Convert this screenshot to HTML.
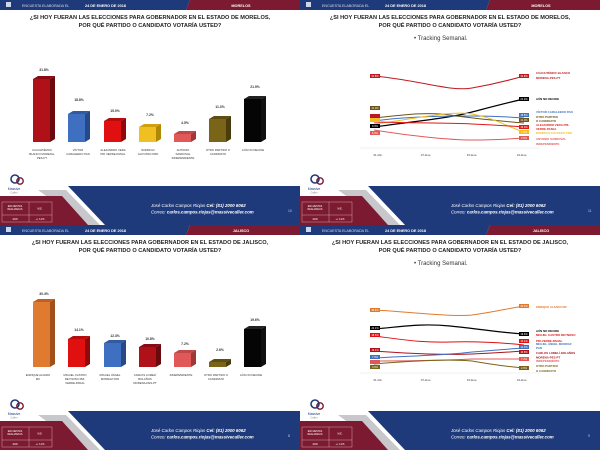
<!DOCTYPE html>
<html><head><meta charset="utf-8"><style>
html,body{margin:0;padding:0;background:#fff;width:600px;height:450px;overflow:hidden}
svg{display:block}
text{font-family:"Liberation Sans",sans-serif}
.t{font-size:5.6px;font-weight:bold;fill:#222;text-anchor:middle}
.hd{font-size:3.6px;fill:#dde}
.hb{font-size:3.8px;fill:#fff;font-weight:bold}
.ct{font-size:4.4px;fill:#fff;font-style:italic}
.v{font-size:3.4px;font-weight:bold;fill:#333;text-anchor:middle}
.c{font-size:2.8px;fill:#333;text-anchor:middle}
.ax{font-size:3px;fill:#444;text-anchor:middle}
.lb{font-size:2.9px;font-weight:bold}
.bx{font-size:2.4px;fill:#fff;text-anchor:middle}
.sub{font-size:6px;fill:#333}
</style></head><body>
<svg width="600" height="450" viewBox="0 0 600 450" xmlns="http://www.w3.org/2000/svg">
<defs>
<g id="frame">
<rect width="300" height="225" fill="#fff"/>
<polygon points="0,0 190,0 186,10 0,10" fill="#1f3a7a"/>
<polygon points="190,0 300,0 300,10 186,10" fill="#7b1a30"/>
<rect x="6" y="2" width="5" height="5" fill="#cfd6e8"/>
<polygon points="68,186 300,186 300,225 105,225" fill="#1f3a7a"/>
<polygon points="38,190 66,190 100,225 86,225" fill="#c8c8cc"/>
<polygon points="0,196 62,196 88,225 0,225" fill="#7b1a30"/>
<rect x="2" y="202" width="50" height="20" fill="none" stroke="#e6c0c8" stroke-width="0.4"/>
<line x1="2" y1="215" x2="52" y2="215" stroke="#e6c0c8" stroke-width="0.4"/>
<line x1="29" y1="202" x2="29" y2="222" stroke="#e6c0c8" stroke-width="0.4"/>
<text class="bx" x="15" y="207">ENCUESTAS</text><text class="bx" x="15" y="210">REALIZADAS</text>
<text class="bx" x="40" y="209.5">M.E.</text>
<text class="bx" x="15" y="220">1000</text><text class="bx" x="40" y="220">+/- 3.2%</text>
<circle cx="15" cy="179" r="4" fill="none" stroke="#1f3a7a" stroke-width="1.6"/>
<circle cx="20" cy="181" r="3.2" fill="none" stroke="#7b1a30" stroke-width="1.4"/>
<text x="14" y="190" style="font-size:3.4px;fill:#1f3a7a;text-anchor:middle">Massive</text>
<text x="14" y="193.5" style="font-size:2.8px;fill:#888;text-anchor:middle">Caller</text>
<text class="ct" x="151" y="207">José Carlos Campos Riojas <tspan font-weight="bold">Cel: (81) 2000 6062</tspan></text>
<text class="ct" x="151" y="213.5">Correo: <tspan font-weight="bold">carlos.campos.riojas@massivecaller.com</tspan></text>
</g>
</defs>

<!-- Slide 1 Morelos bars -->
<g>
<use href="#frame"/>
<text class="hd" x="22" y="7">ENCUESTA ELABORADA EL</text><text class="hb" x="85" y="7">24 DE ENERO DE 2018</text>
<text class="hb" x="241" y="7" text-anchor="middle">MORELOS</text>
<text class="t" x="150" y="19">¿SI HOY FUERAN LAS ELECCIONES PARA GOBERNADOR EN EL ESTADO DE MORELOS,</text>
<text class="t" x="150" y="27">POR QUÉ PARTIDO O CANDIDATO VOTARÍA USTED?</text>
<g>
<rect x="33" y="79" width="17" height="63" fill="#b01018"/><polygon points="33,79 38,76 55,76 50,79" fill="#8a0c12"/><polygon points="50,79 55,76 55,139 50,142" fill="#6a0a0e"/>
<rect x="68" y="114" width="17" height="28" fill="#3f6fc0"/><polygon points="68,114 73,111 90,111 85,114" fill="#325aa0"/><polygon points="85,114 90,111 90,139 85,142" fill="#264a88"/>
<rect x="104" y="121" width="17" height="21" fill="#e01010"/><polygon points="104,121 109,118 126,118 121,121" fill="#b80c0c"/><polygon points="121,121 126,118 126,139 121,142" fill="#900808"/>
<rect x="139" y="127" width="17" height="15" fill="#f0c020"/><polygon points="139,127 144,124 161,124 156,127" fill="#d0a010"/><polygon points="156,127 161,124 161,139 156,142" fill="#b08808"/>
<rect x="174" y="134" width="17" height="8" fill="#e05858"/><polygon points="174,134 179,131 196,131 191,134" fill="#c04848"/><polygon points="191,134 196,131 196,139 191,142" fill="#a03838"/>
<rect x="209" y="119" width="17" height="23" fill="#7a6418"/><polygon points="209,119 214,116 231,116 226,119" fill="#5e4c10"/><polygon points="226,119 231,116 231,139 226,142" fill="#4a3c0c"/>
<rect x="244" y="99" width="17" height="43" fill="#050505"/><polygon points="244,99 249,96 266,96 261,99" fill="#222"/><polygon points="261,99 266,96 266,139 261,142" fill="#111"/>
<text class="v" x="44" y="71">31.8%</text><text class="v" x="79" y="101">18.8%</text><text class="v" x="115" y="112">15.0%</text><text class="v" x="150" y="116">7.2%</text><text class="v" x="185" y="124">4.5%</text><text class="v" x="220" y="108">11.3%</text><text class="v" x="255" y="88">21.9%</text>
<text class="c" x="42" y="151">CUAUHTÉMOC</text><text class="c" x="42" y="155">BLANCO MORENA-</text><text class="c" x="42" y="159">PES-PT</text>
<text class="c" x="78" y="151">VÍCTOR</text><text class="c" x="78" y="155">CARALEEDO PAN</text>
<text class="c" x="113" y="151">ALEJANDRO VERA</text><text class="c" x="113" y="155">PRI VERDE-PANAL</text>
<text class="c" x="148" y="151">RODRIGO</text><text class="c" x="148" y="155">GAYOSSO PRD</text>
<text class="c" x="183" y="151">ANTONIO</text><text class="c" x="183" y="155">SANDOVAL</text><text class="c" x="183" y="159">INDEPENDIENTE</text>
<text class="c" x="218" y="151">OTRO PARTIDO O</text><text class="c" x="218" y="155">CANDIDATO</text>
<text class="c" x="253" y="151">AÚN NO DECIDE</text>
</g>
<text x="288" y="212" style="font-size:3.4px;fill:#ccd">10</text>
</g>

<!-- Slide 2 Morelos lines -->
<g transform="translate(300,0)">
<use href="#frame"/>
<text class="hd" x="22" y="7">ENCUESTA ELABORADA EL</text><text class="hb" x="85" y="7">24 DE ENERO DE 2018</text>
<text class="hb" x="241" y="7" text-anchor="middle">MORELOS</text>
<text class="t" x="150" y="19">¿SI HOY FUERAN LAS ELECCIONES PARA GOBERNADOR EN EL ESTADO DE MORELOS,</text>
<text class="t" x="150" y="27">POR QUÉ PARTIDO O CANDIDATO VOTARÍA USTED?</text>
<text class="sub" x="114" y="40">•   Tracking Semanal.</text>
<line x1="60" y1="148" x2="240" y2="148" stroke="#ddd" stroke-width="0.4"/>
<text class="ax" x="78" y="156">31-Dic.</text><text class="ax" x="126" y="156">07-Ene.</text><text class="ax" x="172" y="156">15-Ene.</text><text class="ax" x="222" y="156">24-Ene.</text>
<g fill="none" stroke-width="1">
<path d="M74,76 C120,80 150,92 172,88 C195,84 210,80 224,76" stroke="#c01820"/>
<path d="M74,127 C110,122 150,118 172,112 C195,106 210,102 224,99" stroke="#000" stroke-width="1.2"/>
<path d="M74,121 C110,116 150,116 172,116 C195,116 210,117 224,118" stroke="#4070c0"/>
<path d="M74,118 C110,114 130,112 150,115 C170,118 200,121 224,123" stroke="#6a5418"/>
<path d="M74,124 C110,120 150,110 172,114 C195,118 210,128 224,132" stroke="#f0c020"/>
<path d="M74,122 C110,123 150,123 172,124 C195,125 210,126 224,127" stroke="#e01818"/>
<path d="M74,130 C110,136 150,140 172,140 C195,140 210,139 224,138" stroke="#e05a5a"/>
</g>
<g font-size="2.6" fill="#fff" text-anchor="middle">
<rect x="70" y="74" width="10" height="4" fill="#c01820"/><text x="75" y="77">31.8%</text>
<rect x="70" y="106" width="10" height="4" fill="#6a5418"/><text x="75" y="109">11.3%</text>
<rect x="70" y="114" width="10" height="4" fill="#c01820"/><rect x="70" y="118" width="10" height="4" fill="#f0c020"/>
<rect x="70" y="124" width="10" height="4" fill="#000"/><text x="75" y="127">9.0%</text>
<rect x="70" y="131" width="10" height="4" fill="#e05a5a"/><text x="75" y="134">6.0%</text>
<rect x="219" y="74" width="10" height="4" fill="#c01820"/><text x="224" y="77">31.8%</text>
<rect x="219" y="97" width="10" height="4" fill="#000"/><text x="224" y="100">21.9%</text>
<rect x="219" y="113" width="10" height="4" fill="#4070c0"/><text x="224" y="116">18.8%</text>
<rect x="219" y="118" width="10" height="4" fill="#6a5418"/><text x="224" y="121">11.3%</text>
<rect x="219" y="125" width="10" height="4" fill="#e01818"/><text x="224" y="128">15.0%</text>
<rect x="219" y="130" width="10" height="4" fill="#f0c020"/><text x="224" y="133">7.2%</text>
<rect x="219" y="136" width="10" height="4" fill="#e05a5a"/><text x="224" y="139">4.5%</text>
</g>
<g class="lb">
<text x="236" y="74" fill="#c01820">CUAUHTÉMOC BLANCO</text><text x="236" y="79" fill="#c01820">MORENA-PES-PT</text>
<text x="236" y="100" fill="#000">AÚN NO DECIDE</text>
<text x="236" y="113" fill="#4070c0">VÍCTOR CARALEEDO PAN</text>
<text x="236" y="118" fill="#6a5418">OTRO PARTIDO</text><text x="236" y="122" fill="#6a5418">O CANDIDATO</text>
<text x="236" y="126" fill="#e01818">ALEJANDRO VERA PRI-</text><text x="236" y="130" fill="#e01818">VERDE-PANAL</text>
<text x="236" y="134" fill="#f0c020">RODRIGO GAYOSSO PRD</text>
<text x="236" y="140" fill="#e05a5a">ANTONIO SANDOVAL</text><text x="236" y="145" fill="#e05a5a">INDEPENDIENTE</text>
</g>
<text x="288" y="212" style="font-size:3.4px;fill:#ccd">11</text>
</g>

<!-- Slide 3 Jalisco bars -->
<g transform="translate(0,225)">
<use href="#frame"/>
<text class="hd" x="22" y="7">ENCUESTA ELABORADA EL</text><text class="hb" x="85" y="7">24 DE ENERO DE 2018</text>
<text class="hb" x="241" y="7" text-anchor="middle">JALISCO</text>
<text class="t" x="150" y="19">¿SI HOY FUERAN LAS ELECCIONES PARA GOBERNADOR EN EL ESTADO DE JALISCO,</text>
<text class="t" x="150" y="27">POR QUÉ PARTIDO O CANDIDATO VOTARÍA USTED?</text>
<rect x="33" y="77" width="17" height="65" fill="#e07a30"/><polygon points="33,77 38,74 55,74 50,77" fill="#c06020"/><polygon points="50,77 55,74 55,139 50,142" fill="#a05018"/>
<rect x="68" y="114" width="17" height="28" fill="#e01010"/><polygon points="68,114 73,111 90,111 85,114" fill="#b80c0c"/><polygon points="85,114 90,111 90,139 85,142" fill="#900808"/>
<rect x="104" y="118" width="17" height="24" fill="#3f6fc0"/><polygon points="104,118 109,115 126,115 121,118" fill="#325aa0"/><polygon points="121,118 126,115 126,139 121,142" fill="#264a88"/>
<rect x="139" y="122" width="17" height="20" fill="#b01018"/><polygon points="139,122 144,119 161,119 156,122" fill="#8a0c12"/><polygon points="156,122 161,119 161,139 156,142" fill="#6a0a0e"/>
<rect x="174" y="128" width="17" height="14" fill="#e05858"/><polygon points="174,128 179,125 196,125 191,128" fill="#c04848"/><polygon points="191,128 196,125 196,139 191,142" fill="#a03838"/>
<rect x="209" y="137" width="17" height="5" fill="#7a6418"/><polygon points="209,137 214,134 231,134 226,137" fill="#5e4c10"/><polygon points="226,137 231,134 231,139 226,142" fill="#4a3c0c"/>
<rect x="244" y="104" width="17" height="38" fill="#050505"/><polygon points="244,104 249,101 266,101 261,104" fill="#222"/><polygon points="261,104 266,101 266,139 261,142" fill="#111"/>
<text class="v" x="44" y="70">30.4%</text><text class="v" x="79" y="106">14.1%</text><text class="v" x="115" y="112">12.3%</text><text class="v" x="150" y="115">10.8%</text><text class="v" x="185" y="120">7.2%</text><text class="v" x="220" y="126">2.6%</text><text class="v" x="255" y="96">19.6%</text>
<text class="c" x="38" y="151">ENRIQUE ALFARO</text><text class="c" x="38" y="155">MC</text>
<text class="c" x="75" y="151">MIGUEL CASTRO</text><text class="c" x="75" y="155">REYNOSO PRI-</text><text class="c" x="75" y="159">VERDE-PANAL</text>
<text class="c" x="110" y="151">MIGUEL ÁNGEL</text><text class="c" x="110" y="155">MONRAZ PAN</text>
<text class="c" x="145" y="151">CARLOS LOMELÍ</text><text class="c" x="145" y="155">BOLAÑOS</text><text class="c" x="145" y="159">MORENA-PES-PT</text>
<text class="c" x="181" y="151">INDEPENDIENTE</text>
<text class="c" x="216" y="151">OTRO PARTIDO O</text><text class="c" x="216" y="155">CANDIDATO</text>
<text class="c" x="251" y="151">AÚN NO DECIDE</text>
<text x="288" y="212" style="font-size:3.4px;fill:#ccd">8</text>
</g>

<!-- Slide 4 Jalisco lines -->
<g transform="translate(300,225)">
<use href="#frame"/>
<text class="hd" x="22" y="7">ENCUESTA ELABORADA EL</text><text class="hb" x="85" y="7">24 DE ENERO DE 2018</text>
<text class="hb" x="241" y="7" text-anchor="middle">JALISCO</text>
<text class="t" x="150" y="19">¿SI HOY FUERAN LAS ELECCIONES PARA GOBERNADOR EN EL ESTADO DE JALISCO,</text>
<text class="t" x="150" y="27">POR QUÉ PARTIDO O CANDIDATO VOTARÍA USTED?</text>
<text class="sub" x="114" y="40">•   Tracking Semanal.</text>
<line x1="60" y1="148" x2="240" y2="148" stroke="#ddd" stroke-width="0.4"/>
<text class="ax" x="78" y="156">31-Dic.</text><text class="ax" x="126" y="156">07-Ene.</text><text class="ax" x="172" y="156">15-Ene.</text><text class="ax" x="222" y="156">24-Ene.</text>
<g fill="none" stroke-width="1">
<path d="M74,85 C110,87 150,92 172,90 C195,87 210,83 224,81" stroke="#e07a30"/>
<path d="M74,104 C100,102 120,98 150,101 C180,104 205,108 224,109" stroke="#000" stroke-width="1.2"/>
<path d="M74,111 C100,114 120,118 150,117 C180,116 205,118 224,120" stroke="#e01010"/>
<path d="M74,126 C110,129 150,130 172,129 C195,128 210,127 224,126" stroke="#b01018"/>
<path d="M74,133 C110,131 150,130 172,127 C195,125 210,124 224,123" stroke="#4070c0"/>
<path d="M74,136 C110,136 150,135 172,134 C195,134 210,134 224,134" stroke="#e05858"/>
<path d="M74,139 C110,136 150,134 172,136 C195,140 210,142 224,143" stroke="#7a6418"/>
</g>
<g font-size="2.6" fill="#fff" text-anchor="middle">
<rect x="70" y="83" width="10" height="4" fill="#e07a30"/><text x="75" y="86">30.4%</text>
<rect x="70" y="101" width="10" height="4" fill="#000"/><text x="75" y="104">22.1%</text>
<rect x="70" y="108" width="10" height="4" fill="#e01010"/><text x="75" y="111">18.6%</text>
<rect x="70" y="123" width="10" height="4" fill="#b01018"/><text x="75" y="126">10.1%</text>
<rect x="70" y="130" width="10" height="4" fill="#4070c0"/><text x="75" y="133">7.0%</text>
<rect x="70" y="135" width="10" height="4" fill="#e05858"/>
<rect x="70" y="140" width="10" height="4" fill="#7a6418"/><text x="75" y="143">4.0%</text>
<rect x="219" y="79" width="10" height="4" fill="#e07a30"/><text x="224" y="82">30.4%</text>
<rect x="219" y="107" width="10" height="4" fill="#000"/><text x="224" y="110">19.6%</text>
<rect x="219" y="114" width="10" height="4" fill="#e01010"/><text x="224" y="117">14.1%</text>
<rect x="219" y="120" width="10" height="4" fill="#4070c0"/><text x="224" y="123">12.3%</text>
<rect x="219" y="125" width="10" height="4" fill="#b01018"/><text x="224" y="128">10.8%</text>
<rect x="219" y="132" width="10" height="4" fill="#e05858"/><text x="224" y="135">7.2%</text>
<rect x="219" y="141" width="10" height="4" fill="#7a6418"/><text x="224" y="144">2.6%</text>
</g>
<g class="lb">
<text x="236" y="83" fill="#e07a30">ENRIQUE ALFARO MC</text>
<text x="236" y="107" fill="#000">AÚN NO DECIDE</text>
<text x="236" y="111" fill="#e01010">MIGUEL CASTRO REYNOSO</text>
<text x="236" y="117" fill="#e01010">PRI-VERDE-PANAL</text>
<text x="236" y="120" fill="#4070c0">MIGUEL ÁNGEL MONRAZ</text><text x="236" y="124" fill="#4070c0">PAN</text>
<text x="236" y="129" fill="#b01018">CARLOS LOMELÍ BOLAÑOS</text>
<text x="236" y="133.5" fill="#b01018">MORENA-PES-PT</text>
<text x="236" y="137" fill="#e05858">INDEPENDIENTE</text>
<text x="236" y="142" fill="#7a6418">OTRO PARTIDO</text><text x="236" y="147" fill="#7a6418">O CANDIDATO</text>
</g>
<text x="288" y="212" style="font-size:3.4px;fill:#ccd">9</text>
</g>
</svg>
</body></html>
